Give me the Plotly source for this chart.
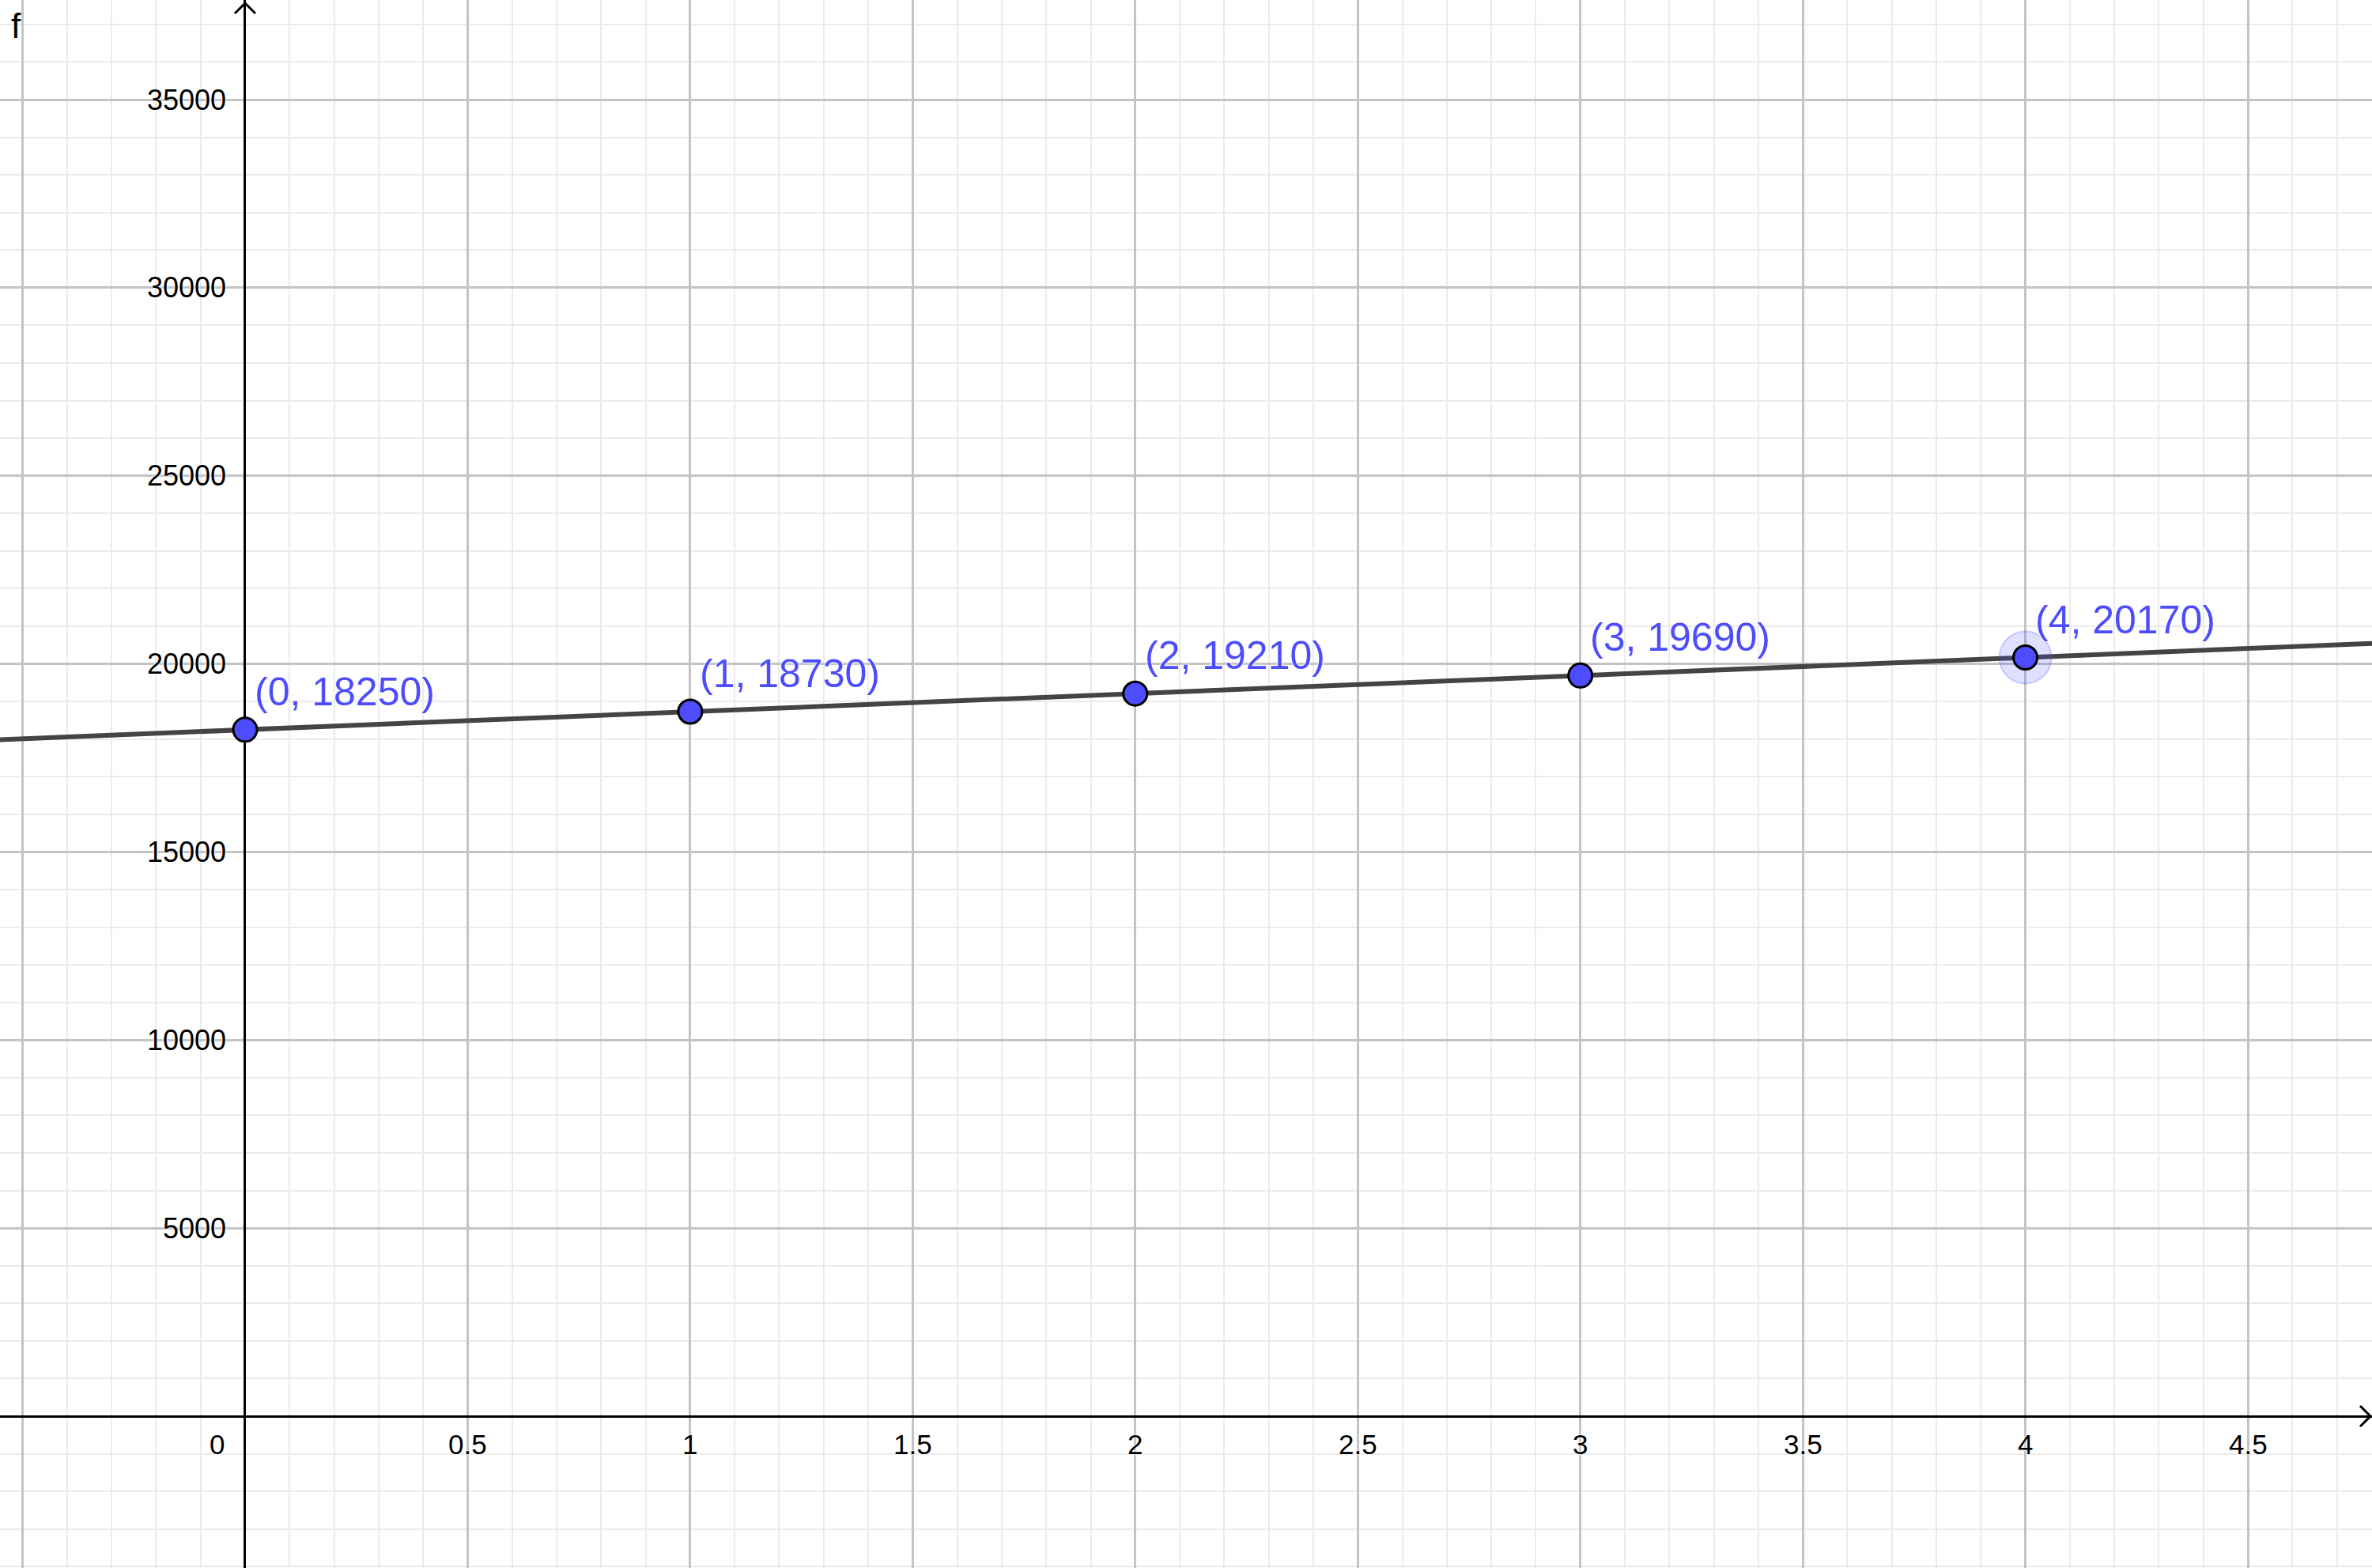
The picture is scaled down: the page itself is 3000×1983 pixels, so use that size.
import plotly.graph_objects as go

# ---- data ----
point_x = [0, 1, 2, 3, 4]
point_y = [18250, 18730, 19210, 19690, 20170]
slope = 480
intercept = 18250
highlight_index = 4

x_tick_vals = [0.5, 1, 1.5, 2, 2.5, 3, 3.5, 4, 4.5]
x_tick_text = ["0.5", "1", "1.5", "2", "2.5", "3", "3.5", "4", "4.5"]
y_tick_vals = [5000, 10000, 15000, 20000, 25000, 30000, 35000]
y_tick_text = ["5000", "10000", "15000", "20000", "25000", "30000", "35000"]

X_RANGE = [-0.5507, 4.7788]
Y_RANGE = [-4036, 37650]

FONT = "Liberation Sans, Arial, sans-serif"
BLUE = "#4d4dff"
HALO = "0 0 3px white, 0 0 3px white"

fig = go.Figure()

# function line across visible range
line_x = [X_RANGE[0] - 0.1, X_RANGE[1] + 0.1]
line_y = [intercept + slope * v for v in line_x]
fig.add_trace(go.Scatter(x=line_x, y=line_y, mode="lines",
                         line=dict(color="#444444", width=6),
                         hoverinfo="skip", showlegend=False))

# highlight halo
fig.add_trace(go.Scatter(x=[point_x[highlight_index]], y=[point_y[highlight_index]],
                         mode="markers",
                         marker=dict(size=66, color="rgba(77,77,255,0.18)",
                                     line=dict(color="rgba(77,77,255,0.25)", width=2)),
                         hoverinfo="skip", showlegend=False))

# points
fig.add_trace(go.Scatter(x=point_x, y=point_y, mode="markers",
                         marker=dict(size=30, color=BLUE,
                                     line=dict(color="black", width=3)),
                         showlegend=False))

annotations = []
for px, py in zip(point_x, point_y):
    annotations.append(dict(x=px, y=py, xref="x", yref="y",
                            text=f"({px}, {py})", showarrow=False,
                            xanchor="left", yanchor="bottom",
                            xshift=10, yshift=18,
                            font=dict(family=FONT, size=50, color=BLUE, shadow=HALO)))

for v, t in zip(x_tick_vals, x_tick_text):
    annotations.append(dict(x=v, y=0, xref="x", yref="y", text=t, showarrow=False,
                            xanchor="center", yanchor="top", yshift=-14,
                            font=dict(family=FONT, size=35, color="black", shadow=HALO)))
annotations.append(dict(x=0, y=0, xref="x", yref="y", text="0", showarrow=False,
                        xanchor="right", yanchor="top", xshift=-24, yshift=-14,
                        font=dict(family=FONT, size=35, color="black", shadow=HALO)))
for v, t in zip(y_tick_vals, y_tick_text):
    annotations.append(dict(x=0, y=v, xref="x", yref="y", text=t, showarrow=False,
                            xanchor="right", yanchor="middle", xshift=-22,
                            font=dict(family=FONT, size=36, color="black", shadow=HALO)))

annotations.append(dict(x=0, y=1, xref="paper", yref="paper", text="f",
                        showarrow=False, xanchor="left", yanchor="top",
                        xshift=12, yshift=-6,
                        font=dict(family=FONT, size=44, color="black")))

shapes = [
    # arrowhead at top of y-axis
    dict(type="path", xref="x", yref="paper", xsizemode="pixel", ysizemode="pixel",
         xanchor=0, yanchor=1, path="M -13,-17 L 0,-4 L 13,-17",
         line=dict(color="black", width=3), layer="above"),
    # arrowhead at right end of x-axis
    dict(type="path", xref="paper", yref="y", xsizemode="pixel", ysizemode="pixel",
         xanchor=1, yanchor=0, path="M -15,13 L -2,0 L -15,-13",
         line=dict(color="black", width=3), layer="above"),
]

fig.update_layout(
    width=3000, height=1983, autosize=False,
    margin=dict(l=0, r=0, t=0, b=0),
    paper_bgcolor="white", plot_bgcolor="white",
    showlegend=False,
    annotations=annotations,
    shapes=shapes,
    xaxis=dict(range=X_RANGE, tick0=0, dtick=0.5, showgrid=True,
               gridcolor="#c4c4c4", gridwidth=2.5,
               minor=dict(tick0=0, dtick=0.1, showgrid=True,
                          gridcolor="#ebebeb", gridwidth=2),
               zeroline=True, zerolinecolor="black", zerolinewidth=3,
               showticklabels=False, ticks="", fixedrange=True),
    yaxis=dict(range=Y_RANGE, tick0=0, dtick=5000, showgrid=True,
               gridcolor="#c4c4c4", gridwidth=2.5,
               minor=dict(tick0=0, dtick=1000, showgrid=True,
                          gridcolor="#ebebeb", gridwidth=2),
               zeroline=True, zerolinecolor="black", zerolinewidth=3,
               showticklabels=False, ticks="", fixedrange=True),
)

fig.write_html("out.html",
               config={"displayModeBar": False},
               post_script="document.body.style.margin='0';"
                           "document.body.style.overflow='hidden';")
